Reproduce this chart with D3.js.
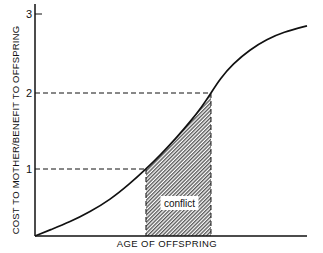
<!DOCTYPE html>
<html lang="en">
<head>
    <meta charset="UTF-8">
    <script src="https://cdn.jsdelivr.net/npm/d3@7"></script>
    <style>
        body { margin: 0; background: #fff; }
        text { font-family: "Liberation Sans", Arial, sans-serif; fill: #111; }
    </style>
</head>
<body>
<div id="fig"></div>
<script>
    const width = 323, height = 253;

    // curve (age in arbitrary units, cost/benefit ratio)
    const age   = [0, 0.55, 1.29, 2.02, 2.76, 3.49, 4.08, 4.6, 5.22, 5.7, 6.14, 6.47, 6.8, 7.28, 7.9, 8.53, 9.12, 10];
    const ratio = [0, 0.09, 0.21, 0.36, 0.54, 0.78, 1.0, 1.18, 1.42, 1.62, 1.82, 2.0, 2.18, 2.37, 2.55, 2.68, 2.77, 2.85];
    const yTicks = [1, 2, 3];
    const conflictStart = 4.08, conflictEnd = 6.47;

    const svg = d3.select("#fig").append("svg")
        .attr("width", width)
        .attr("height", height);

    const x = d3.scaleLinear().domain([0, 10]).range([35, 307]);
    // ratio axis is drawn unevenly in the original
    const y = d3.scaleLinear().domain([0, 1, 2, 3]).range([236, 169, 93, 14]);

    const pts = age.map((a, i) => [a, ratio[i]]);

    // hatch pattern
    const defs = svg.append("defs");
    const pat = defs.append("pattern")
        .attr("id", "hatch")
        .attr("patternUnits", "userSpaceOnUse")
        .attr("width", 2.6).attr("height", 2.6)
        .attr("patternTransform", "rotate(45)");
    pat.append("rect").attr("width", 2.6).attr("height", 2.6).attr("fill", "#fff");
    pat.append("line")
        .attr("x1", 0.7).attr("y1", 0).attr("x2", 0.7).attr("y2", 2.6)
        .attr("stroke", "#444").attr("stroke-width", 1.2);

    defs.append("clipPath").attr("id", "conflictClip")
        .append("rect")
        .attr("x", x(conflictStart)).attr("y", 0)
        .attr("width", x(conflictEnd) - x(conflictStart))
        .attr("height", height);

    // conflict area under curve (same smoothed curve, clipped to the conflict span)
    const area = d3.area()
        .x(d => x(d[0]))
        .y0(y(0))
        .y1(d => y(d[1]))
        .curve(d3.curveBasis);
    svg.append("path")
        .attr("d", area(pts))
        .attr("clip-path", "url(#conflictClip)")
        .attr("fill", "url(#hatch)");

    // dashed guides
    const guides = svg.append("g")
        .attr("stroke", "#111")
        .attr("stroke-width", 1)
        .attr("stroke-dasharray", "5,3")
        .attr("fill", "none");
    [[conflictStart, 1], [conflictEnd, 2]].forEach(([a, r]) => {
        guides.append("line")
            .attr("x1", x(0)).attr("x2", x(a))
            .attr("y1", y(r)).attr("y2", y(r));
        guides.append("line")
            .attr("x1", x(a)).attr("x2", x(a))
            .attr("y1", y(r)).attr("y2", y(0));
    });

    // axes
    svg.append("line")
        .attr("x1", x(0)).attr("x2", x(0))
        .attr("y1", 4).attr("y2", y(0))
        .attr("stroke", "#111").attr("stroke-width", 1.5);
    svg.append("line")
        .attr("x1", x(0)).attr("x2", x(10))
        .attr("y1", y(0)).attr("y2", y(0))
        .attr("stroke", "#111").attr("stroke-width", 1.5);
    svg.append("line")
        .attr("x1", x(0)).attr("x2", x(0) + 7)
        .attr("y1", y(3)).attr("y2", y(3))
        .attr("stroke", "#111").attr("stroke-width", 1);

    svg.selectAll(".ytick")
        .data(yTicks)
        .join("text")
        .attr("class", "ytick")
        .attr("x", x(0) - 3)
        .attr("y", d => y(d) + 4)
        .attr("text-anchor", "end")
        .attr("font-size", 11)
        .text(d => d);

    // curve
    const line = d3.line()
        .x(d => x(d[0]))
        .y(d => y(d[1]))
        .curve(d3.curveBasis);
    svg.append("path")
        .attr("d", line(pts))
        .attr("fill", "none")
        .attr("stroke", "#111")
        .attr("stroke-width", 1.7);

    // conflict label
    const cx = x((conflictStart + conflictEnd) / 2) + 1;
    svg.append("rect")
        .attr("x", cx - 19).attr("y", 196)
        .attr("width", 38).attr("height", 14)
        .attr("fill", "#fff");
    svg.append("text")
        .attr("x", cx).attr("y", 206.5)
        .attr("text-anchor", "middle")
        .attr("font-size", 10)
        .text("conflict");

    // axis titles
    svg.append("text")
        .attr("x", 167).attr("y", 247)
        .attr("text-anchor", "middle")
        .attr("font-size", 9.5)
        .attr("letter-spacing", 0.4)
        .text("AGE OF OFFSPRING");
    svg.append("text")
        .attr("transform", "translate(19,130) rotate(-90)")
        .attr("text-anchor", "middle")
        .attr("font-size", 9.5)
        .attr("letter-spacing", 0.2)
        .text("COST TO MOTHER/BENEFIT TO OFFSPRING");
</script>
</body>
</html>
